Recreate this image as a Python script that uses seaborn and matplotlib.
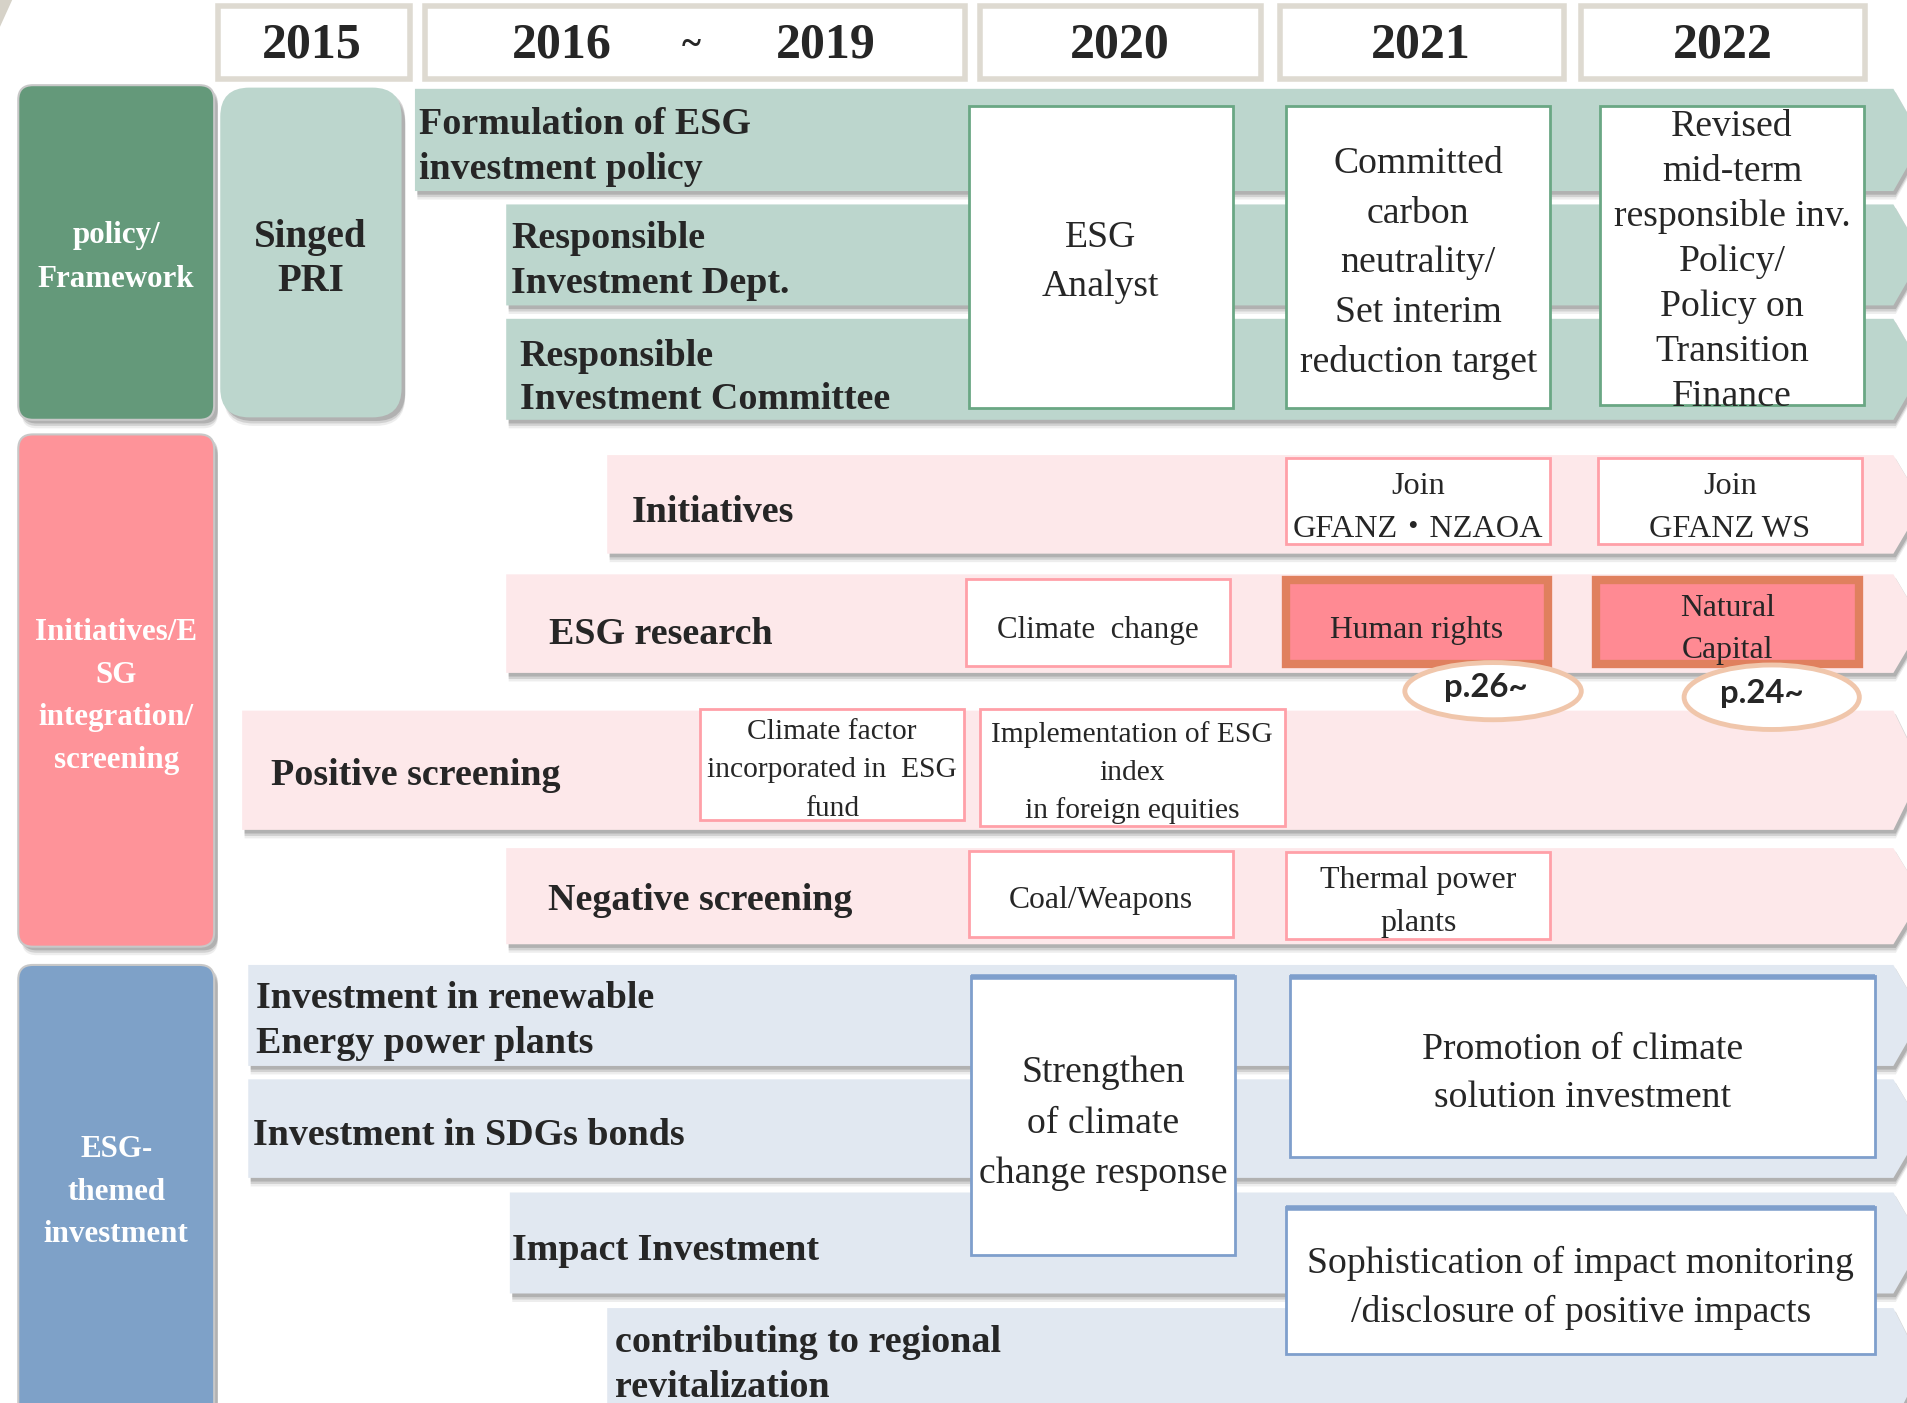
import matplotlib
matplotlib.use("Agg")
import matplotlib.pyplot as plt
import seaborn as sns
from matplotlib.patches import Polygon, Rectangle, FancyBboxPatch, Ellipse

sns.set_theme(style="white")
plt.rcParams['font.family'] = ['Liberation Serif', 'Noto Sans CJK JP', 'DejaVu Sans']

# ---- data (texts) ----
years = ["2015", "2016", "~", "2019", "2020", "2021", "2022"]
pillars = ["policy/\nFramework", "Initiatives/E\nSG\nintegration/\nscreening", "ESG-\nthemed\ninvestment"]
pri_label = "Singed\nPRI"

green_rows = ["Formulation of ESG\ninvestment policy", "Responsible\nInvestment Dept.",
              "Responsible\nInvestment Committee"]
green_boxes = ["ESG\nAnalyst",
               "Committed\ncarbon\nneutrality/\nSet interim\nreduction target",
               "Revised\nmid-term\nresponsible inv.\nPolicy/\nPolicy on\nTransition\nFinance"]

pink_rows = ["Initiatives", "ESG research", "Positive screening", "Negative screening"]
pink_boxes = ["Join\nGFANZ・NZAOA", "Join\nGFANZ WS", "Climate  change",
              "Climate factor\nincorporated in  ESG\nfund",
              "Implementation of ESG\nindex\nin foreign equities",
              "Coal/Weapons", "Thermal power\nplants"]
highlights = ["Human rights", "Natural\nCapital"]
page_refs = ["p.26~", "p.24~"]

blue_rows = ["Investment in renewable\nEnergy power plants", "Investment in SDGs bonds",
             "Impact Investment", "contributing to regional\nrevitalization"]
blue_boxes = ["Strengthen\nof climate\nchange response",
              "Promotion of climate\nsolution investment",
              "Sophistication of impact monitoring\n/disclosure of positive impacts"]

# ---- layout (canvas units 1568 x 1153, y downwards) ----
W, H = 1568, 1153
S = 1908 / 1568 * 0.72          # canvas px -> points


def fs(px):
    return px * S


year_x = [256, 462, 568, 679, 920, 1168, 1416]
year_boxes = [(179, 337), (349, 793), (805, 1036), (1052, 1285), (1299, 1533)]

pillar_geo = [(15, 70, 176, 345), (15, 357, 176, 778), (15, 793, 176, 1175)]
pillar_cols = ["#64997a", "#fe9399", "#7ea1c8"]
pillar_text_y = [209, 569.5, 977]

green_band_geo = [(341, 73, 157), (416, 168, 251), (416, 262, 345)]
green_text_pos = [(344, 117.5, 37), (420, 211.5, 37), (427, 307.5, 35)]
green_box_geo = [(796, 87, 1013, 335), (1057, 87, 1274, 335), (1315, 87, 1532, 333)]
green_box_text = [(212, 40), (213, 41), (211.5, 37)]

pink_band_geo = [(499, 374, 455), (416, 472, 553), (199, 584, 682), (416, 697, 776)]
pink_text_pos = [(519, 418), (451, 518), (223, 634), (450, 737)]
pink_box_geo = [(1057, 376, 1274, 447), (1313, 376, 1530, 447), (794, 476, 1011, 547),
                (575, 583, 792, 674), (805, 583, 1056, 679), (796, 699, 1013, 770),
                (1057, 700, 1274, 772)]
pink_box_text = [(414.5, 35, 26.5), (414.5, 35, 26.5), (515, 0, 25.5), (630.5, 31.5, 24.3),
                 (632.5, 31.5, 24.3), (737, 0, 26), (738.5, 35, 26.3)]
highlight_geo = [(1054, 474, 1275, 548), (1309, 474, 1530, 548)]
highlight_text = [(515, 0), (514.5, 35)]
ref_geo = [(1227, 568, 145, 47), (1456, 573, 144, 53)]
ref_text_x = [1221, 1448]

blue_band_geo = [(204, 793, 876), (204, 887, 968), (419, 980, 1063), (499, 1075, 1170)]
blue_text_pos = [(210, 835.5, 37), (208, 930, 0), (421, 1024, 0), (505, 1118.5, 37)]
blue_box_geo = [(798, 802, 1015, 1031), (1060, 802, 1541, 951), (1057, 992, 1541, 1113)]
blue_box_text = [(920, 41.5), (879, 40), (1055, 40)]

LABEL_PX, BOX_PX = 31.2, 31

GREEN_BAND, PINK_BAND, BLUE_BAND = "#bcd6cd", "#fde8ea", "#e1e8f1"
GREEN_EDGE, PINK_EDGE, BLUE_EDGE = "#6aa784", "#ffa0a8", "#7f9fcc"

fig = plt.figure(figsize=(19.08, 14.03), dpi=100)
ax = fig.add_axes([0, 0, 1, 1])
ax.set_xlim(0, W)
ax.set_ylim(H, 0)
ax.axis("off")


def lines_at(x, yc, text, spacing, size, ha="center", **kw):
    parts = text.split("\n")
    n = len(parts)
    for i, line in enumerate(parts):
        y = yc + (i - (n - 1) / 2) * spacing
        ax.text(x, y, line, ha=ha, va="center_baseline", fontsize=fs(size), **kw)


def shadow(make, z):
    for off, a in [(7, 0.10), (5, 0.18), (3, 0.25)]:
        p = make(off)
        p.set_facecolor("#555555")
        p.set_edgecolor("none")
        p.set_alpha(a)
        p.set_zorder(z)
        ax.add_patch(p)


def band(x0, y0, y1, color, z=1):
    xr, tip = 1556, 1580
    ym = (y0 + y1) / 2

    def pts(dx=0, dy=0):
        return [(x0 + dx, y0 + dy), (xr + dx, y0 + dy), (tip + dx, ym + dy),
                (xr + dx, y1 + dy), (x0 + dx, y1 + dy)]
    shadow(lambda o: Polygon(pts(2, o)), z)
    ax.add_patch(Polygon(pts(), closed=True, facecolor=color, edgecolor="none", zorder=z + 0.1))


def rbox(x0, y0, x1, y1, color, r, z=3, edge="#c8c8c8"):
    shadow(lambda o: FancyBboxPatch((x0 + 3, y0 + o), x1 - x0, y1 - y0,
                                    boxstyle=f"round,pad=0,rounding_size={r}"), z)
    ax.add_patch(FancyBboxPatch((x0, y0), x1 - x0, y1 - y0,
                                boxstyle=f"round,pad=0,rounding_size={r}",
                                facecolor=color, edgecolor=edge, linewidth=1.5, zorder=z + 0.1))


def wbox(x0, y0, x1, y1, edge, lw=2.0, face="white", z=6):
    ax.add_patch(Rectangle((x0, y0), x1 - x0, y1 - y0, facecolor=face,
                           edgecolor=edge, linewidth=lw, zorder=z))


# top-left corner mark
ax.add_patch(Polygon([(0, 0), (10, 0), (0, 22)], facecolor="#d6d2c8", edgecolor="none"))

# header years
for x0, x1 in year_boxes:
    wbox(x0, 5, x1, 65, "#dedad1", lw=4)
for x, label in zip(year_x, years):
    ax.text(x, 37, label, ha="center", va="center", fontsize=fs(41 if label != "~" else 30),
            fontweight="bold", zorder=8)

# pillars on the left
for (x0, y0, x1, y1), col, label, yc in zip(pillar_geo, pillar_cols, pillars, pillar_text_y):
    rbox(x0, y0, x1, y1, col, 12)
    lines_at((x0 + x1) / 2, yc, label, 35 if label.count("\n") != 1 else 36, 25.5,
             color="white", fontweight="bold", zorder=8)

rbox(181, 72, 330, 343, GREEN_BAND, 24, edge="none")
lines_at(255, 209.5, pri_label, 36, 32, fontweight="bold", zorder=8)

# policy/framework rows
for (x0, y0, y1), label, (tx, ty, sp) in zip(green_band_geo, green_rows, green_text_pos):
    band(x0, y0, y1, GREEN_BAND)
    lines_at(tx, ty, label, sp, LABEL_PX, ha="left", fontweight="bold", zorder=8)
for (x0, y0, x1, y1), label, (ty, sp) in zip(green_box_geo, green_boxes, green_box_text):
    wbox(x0, y0, x1, y1, GREEN_EDGE)
    lines_at((x0 + x1) / 2, ty, label, sp, BOX_PX, zorder=8)

# integration / screening rows
for (x0, y0, y1), label, (tx, ty) in zip(pink_band_geo, pink_rows, pink_text_pos):
    band(x0, y0, y1, PINK_BAND)
    ax.text(tx, ty, label, ha="left", va="center_baseline", fontsize=fs(LABEL_PX),
            fontweight="bold", zorder=8)
for (x0, y0, x1, y1), label, (ty, sp, size) in zip(pink_box_geo, pink_boxes, pink_box_text):
    wbox(x0, y0, x1, y1, PINK_EDGE)
    lines_at((x0 + x1) / 2, ty, label, sp, size, zorder=8)
for (x0, y0, x1, y1), label, (ty, sp) in zip(highlight_geo, highlights, highlight_text):
    wbox(x0 + 2.5, y0 + 2.5, x1 - 2.5, y1 - 2.5, "#e0805e", lw=6, face="#ff8a93")
    lines_at((x0 + x1) / 2, ty, label, sp, 26, zorder=8)
for (cx, cy, w, h), label, tx in zip(ref_geo, page_refs, ref_text_x):
    ax.add_patch(Ellipse((cx, cy), w, h, facecolor="white", edgecolor="#f0c6ab",
                         linewidth=3.5, zorder=9))
    ax.text(tx, cy - 3, label, ha="center", va="center", fontsize=fs(27),
            fontweight="bold", family="Lato", zorder=10)

# ESG-themed investment rows
for (x0, y0, y1), label, (tx, ty, sp) in zip(blue_band_geo, blue_rows, blue_text_pos):
    band(x0, y0, y1, BLUE_BAND)
    lines_at(tx, ty, label, sp, LABEL_PX, ha="left", fontweight="bold", zorder=8)
for (x0, y0, x1, y1), label, (ty, sp) in zip(blue_box_geo, blue_boxes, blue_box_text):
    wbox(x0, y0, x1, y1, BLUE_EDGE)
    ax.plot([x0, x1], [y0 + 1, y0 + 1], color=BLUE_EDGE, linewidth=4, zorder=7,
            solid_capstyle="butt")
    lines_at((x0 + x1) / 2, ty, label, sp, BOX_PX, zorder=8)

fig.savefig("out.png", dpi=100)
